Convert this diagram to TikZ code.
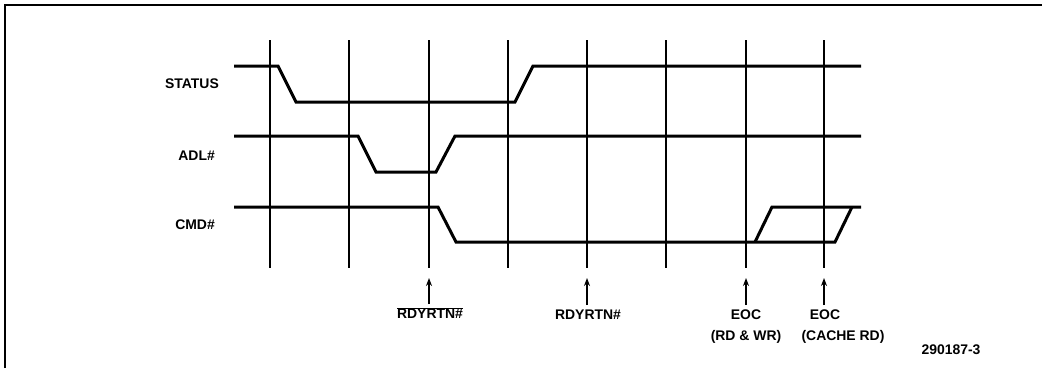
\documentclass[tikz,border=0pt]{standalone}
\usepackage{fontspec}
\setmainfont{Liberation Sans}
\usetikzlibrary{arrows.meta}
\begin{document}
\begin{tikzpicture}[x=1bp,y=-1bp,
  sig/.style={line width=3bp, line join=miter},
  gridline/.style={line width=1.4bp},
  frameline/.style={line width=2bp},
  lbl/.style={font=\fontsize{14}{16}\selectfont\bfseries, inner sep=0pt},
  evt/.style={-{Stealth[length=8bp,width=6bp]}, line width=1.5bp}]
\useasboundingbox (0,0) rectangle (1042,368);
\draw[frameline] (5,368) -- (5,5) -- (1042,5);
% vertical time lines
\foreach \x in {270,349,429,508,587,666,746,824}
  \draw[gridline] (\x,40) -- (\x,268);
% signal names
\node[lbl, anchor=east] (status) at (219,84) {STATUS};
\node[lbl, anchor=east] (adl) at (215,156) {ADL\#};
\node[lbl, anchor=east] (cmd) at (215,225) {CMD\#};
% waveforms
\draw[sig] (234,66) -- (278,66) -- (296,102) -- (515,102) -- (533,66) -- (861,66);
\draw[sig] (234,136) -- (358,136) -- (376,172) -- (436,172) -- (455,136) -- (861,136);
\draw[sig] (234,207) -- (438,207) -- (456,242) -- (835,242) -- (852,207);
\draw[sig] (755,242) -- (772,207) -- (861,207);
% event markers
\coordinate (t1) at (429,278);
\coordinate (t2) at (587,278);
\coordinate (t3) at (746,278);
\coordinate (t4) at (824,278);
\node[lbl, anchor=north] (e1) at (430,307) {$\overline{\mbox{RDYRTN\#}}$};
\node[lbl, anchor=north] (e2) at (588,310) {RDYRTN\#};
\node[lbl, anchor=north] (e3) at (746,310) {EOC};
\node[lbl, anchor=north] (e3b) at (746,330) {(RD \& WR)};
\node[lbl, anchor=north] (e4) at (825,310) {EOC};
\node[lbl, anchor=north] (e4b) at (843,330) {(CACHE RD)};
\draw[evt] ([yshift=3bp]t1 |- e1.north) -- (t1);
\draw[evt] ([yshift=5bp]t2 |- e2.north) -- (t2);
\draw[evt] ([yshift=5bp]t3 |- e3.north) -- (t3);
\draw[evt] ([yshift=5bp]t4 |- e4.north) -- (t4);
\node[lbl] (fig) at (951,350) {290187-3};
\end{tikzpicture}
\end{document}
